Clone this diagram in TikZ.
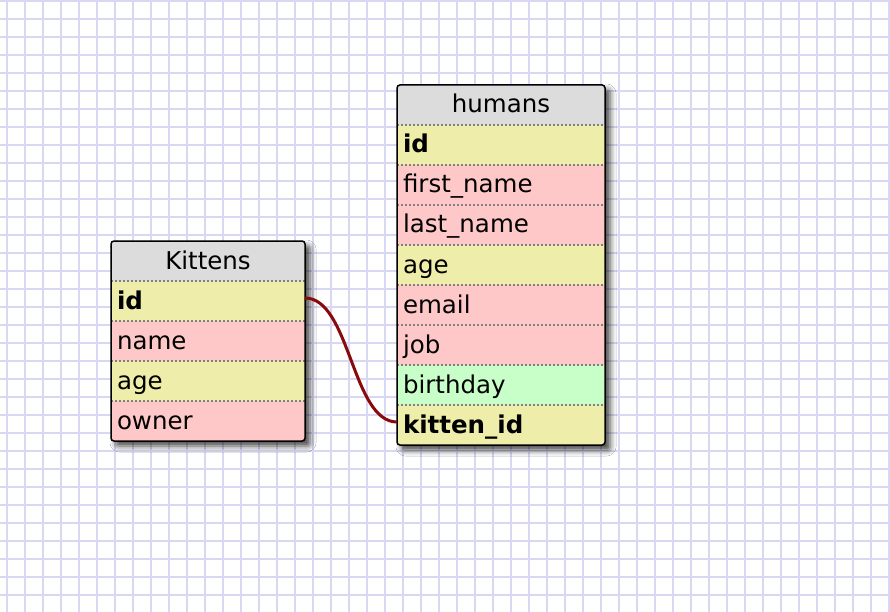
\documentclass[tikz,border=0pt]{standalone}
\usepackage{fontspec}
\setmainfont{DejaVu Sans}
\usetikzlibrary{shadows.blur,fit,backgrounds}
\definecolor{gridc}{RGB}{216,216,244}
\definecolor{headc}{RGB}{220,220,220}
\definecolor{keyc}{RGB}{238,238,170}
\definecolor{fieldc}{RGB}{255,200,200}
\definecolor{datec}{RGB}{200,255,200}
\definecolor{linkc}{RGB}{136,10,10}
\definecolor{sepc}{RGB}{128,128,128}
\begin{document}
\begin{tikzpicture}[x=1pt,y=-1pt,
  row/.style={rectangle, anchor=north west, inner xsep=6pt, inner ysep=0pt, outer sep=0pt,
    minimum height=40pt, text height=17pt, text depth=1pt,
    font=\fontsize{24.5}{28}\selectfont, align=left},
  kitw/.style={text width=182pt},
  humw/.style={text width=196pt},
  head/.style={fill=headc, align=center},
  sepline/.style={draw=sepc, line width=1.5pt, dash pattern=on 2pt off 2pt},
  frame/.style={inner sep=0pt, outer sep=0pt, draw=black, line width=1.5pt, rounded corners=3pt},
  shadowbox/.style={inner sep=0pt, outer sep=0pt, fill=white, rounded corners=3pt,
    blur shadow={shadow xshift=5pt, shadow yshift=-5pt, shadow blur radius=6pt, shadow opacity=75}},
  gridline/.style={draw=gridc, line width=1.8pt},
  link/.style={draw=linkc, line width=3pt}
]
\useasboundingbox (0,0) rectangle (890,612);

% Kittens table
\node[row, kitw, head] (k0) at (111,241) {Kittens};
\node[row, kitw, fill=keyc] (k1) at (k0.south west) {\bfseries id};
\node[row, kitw, fill=fieldc] (k2) at (k1.south west) {name};
\node[row, kitw, fill=keyc] (k3) at (k2.south west) {age};
\node[row, kitw, fill=fieldc] (k4) at (k3.south west) {owner};

% humans table
\node[row, humw, head] (h0) at (397,85) {humans};
\node[row, humw, fill=keyc] (h1) at (h0.south west) {\bfseries id};
\node[row, humw, fill=fieldc] (h2) at (h1.south west) {first\_name};
\node[row, humw, fill=fieldc] (h3) at (h2.south west) {last\_name};
\node[row, humw, fill=keyc] (h4) at (h3.south west) {age};
\node[row, humw, fill=fieldc] (h5) at (h4.south west) {email};
\node[row, humw, fill=fieldc] (h6) at (h5.south west) {job};
\node[row, humw, fill=datec] (h7) at (h6.south west) {birthday};
\node[row, humw, fill=keyc] (h8) at (h7.south west) {\bfseries kitten\_id};

% separators
\foreach \n in {k0,k1,k2,k3,h0,h1,h2,h3,h4,h5,h6,h7}
  \draw[sepline] (\n.south west) -- (\n.south east);

% frames
\node[frame, fit=(k0)(k4)] (kittens) {};
\node[frame, fit=(h0)(h8)] (humans) {};

% background: paper, grid and shadows
\begin{scope}[on background layer]
  \fill[white] (0,0) rectangle (890,612);
  \foreach \x in {7,25,...,889} \draw[gridline] (\x,0) -- (\x,612);
  \foreach \y in {1,19,...,611} \draw[gridline] (0,\y) -- (890,\y);
  \node[shadowbox, fit=(k0)(k4)] {};
  \node[shadowbox, fit=(h0)(h8)] {};
\end{scope}

% connector
\draw[link] ([yshift=3pt]k1.east) .. controls +(45,0) and +(-45,0) .. ([yshift=3pt]h8.west);
\end{tikzpicture}
\end{document}
